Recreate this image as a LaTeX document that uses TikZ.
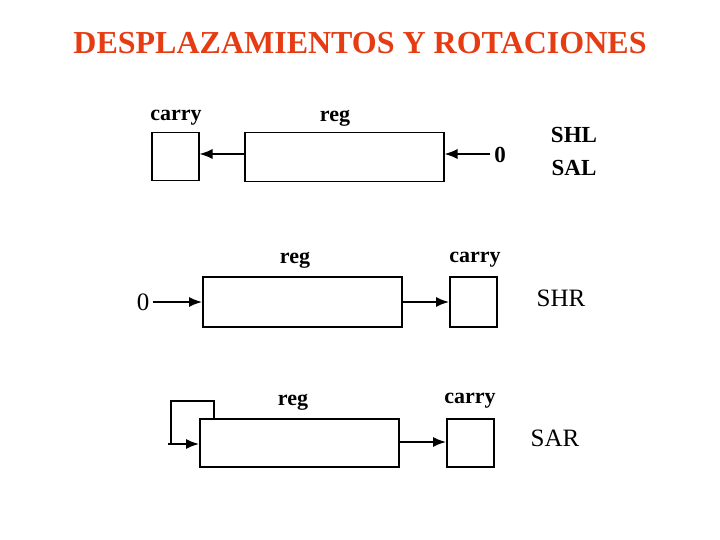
\documentclass[tikz,border=0pt]{standalone}
\usepackage{fontspec}
\setmainfont{Liberation Serif}
\usetikzlibrary{arrows.meta}
\definecolor{titlered}{RGB}{230,60,20}
\tikzset{
  box/.style={draw, line width=1.5pt, inner sep=0pt, anchor=north west},
  lbl/.style={font=\fontsize{22}{22}\selectfont\bfseries, inner sep=0pt},
  op/.style={font=\fontsize{25}{25}\selectfont, inner sep=0pt},
  opb/.style={font=\fontsize{23}{23}\selectfont\bfseries, inner sep=0pt},
  arr/.style={line width=1.5pt, -{Latex[length=13pt,width=10pt]}},
}
\begin{document}
\begin{tikzpicture}[x=1pt,y=-1pt]
\useasboundingbox (0,0) rectangle (720,540);
\node[font=\fontsize{32}{32}\selectfont\bfseries, text=titlered, inner sep=0pt] (title) at (360,43) {DESPLAZAMIENTOS Y ROTACIONES};

% Row 1: SHL / SAL
\node[box, minimum width=47pt, minimum height=48pt] (c1) at (151,132) {};
\node[box, minimum width=199pt, minimum height=49pt] (r1) at (244,132) {};
\node[lbl] (c1l) at (176,118) {carry};
\node[lbl] (r1l) at (335,118) {reg};
\node[opb, anchor=center] (z1) at (500,155) {0};
\node[opb] (shl) at (574,135) {SHL};
\node[opb] (sal) at (574,168) {SAL};
\draw[arr] (r1.west |- 0,154) -- (c1.east |- 0,154);
\draw[arr] (z1.west |- 0,154) ++(-4,0) -- (r1.east |- 0,154);

% Row 2: SHR
\node[box, minimum width=199pt, minimum height=50pt] (r2) at (202,276) {};
\node[box, minimum width=47pt, minimum height=50pt] (c2) at (449,276) {};
\node[lbl] (r2l) at (295,260) {reg};
\node[lbl] (c2l) at (475,260) {carry};
\node[op] (z2) at (143,302) {0};
\node[op] (shr) at (561,298) {SHR};
\draw[arr] (z2.east) ++(4,0) -- (r2.west |- 0,302);
\draw[arr] (r2.east |- 0,302) -- (c2.west |- 0,302);

% Row 3: SAR
\node[box, minimum width=199pt, minimum height=48pt] (r3) at (199,418) {};
\node[box, minimum width=47pt, minimum height=48pt] (c3) at (446,418) {};
\node[lbl] (r3l) at (293,402) {reg};
\node[lbl] (c3l) at (470,401) {carry};
\node[op] (sar) at (555,438) {SAR};
\coordinate (lp) at (214,418);
\draw[line width=1.2pt] (lp) -- (214,401) -- (171,401) -- (171,444);
\draw[arr] (168,444) -- (r3.west |- 0,444);
\draw[arr] (r3.east |- 0,442) -- (c3.west |- 0,442);
\end{tikzpicture}
\end{document}
